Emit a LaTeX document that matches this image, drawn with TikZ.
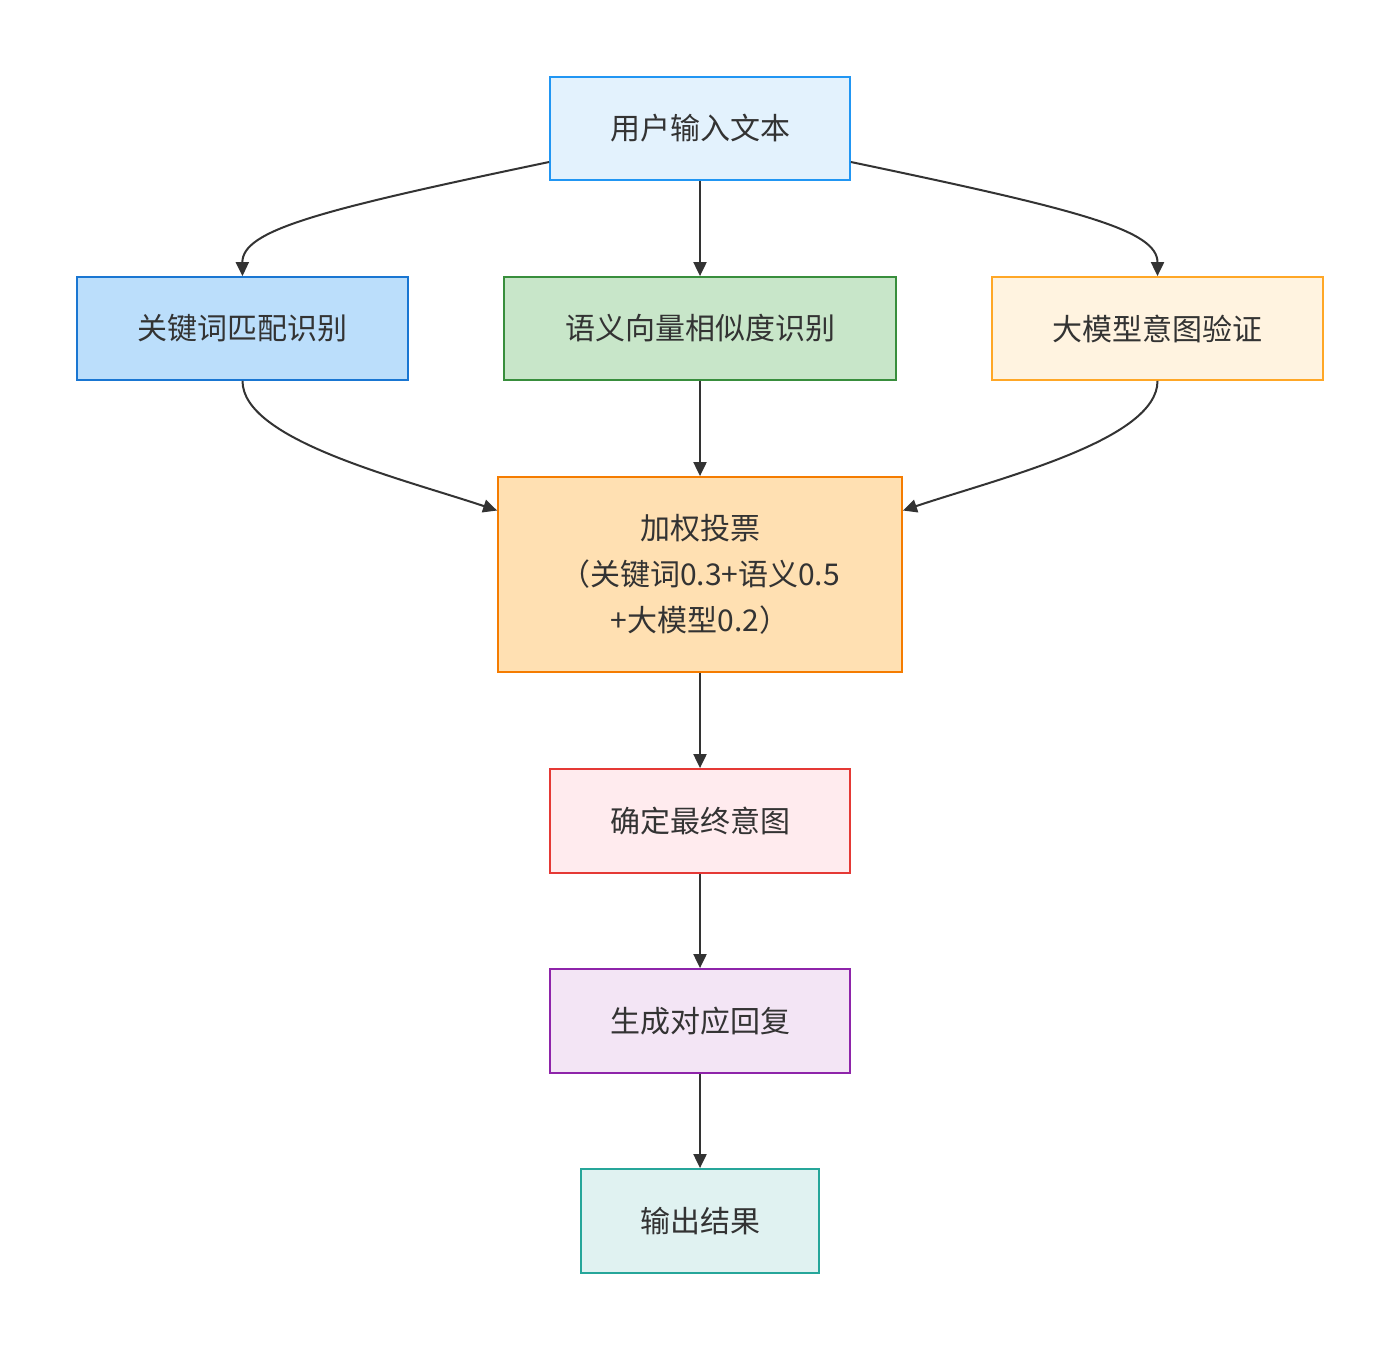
\documentclass[tikz,border=0pt]{standalone}
\usepackage{fontspec}
\setmainfont{Noto Sans CJK SC}
\usetikzlibrary{arrows.meta}
\definecolor{txt}{HTML}{333333}
\definecolor{aF}{HTML}{E3F2FD}\definecolor{aD}{HTML}{2196F3}
\definecolor{bF}{HTML}{BBDEFB}\definecolor{bD}{HTML}{1976D2}
\definecolor{cF}{HTML}{C8E6C9}\definecolor{cD}{HTML}{388E3C}
\definecolor{dF}{HTML}{FFF3E0}\definecolor{dD}{HTML}{FFA726}
\definecolor{eF}{HTML}{FFE0B2}\definecolor{eD}{HTML}{F57C00}
\definecolor{fF}{HTML}{FFEBEE}\definecolor{fD}{HTML}{E53935}
\definecolor{gF}{HTML}{F3E5F5}\definecolor{gD}{HTML}{8E24AA}
\definecolor{hF}{HTML}{E0F2F1}\definecolor{hD}{HTML}{26A69A}
\tikzset{
  box/.style={draw, line width=0.9pt, rectangle, inner sep=0pt, text=txt,
    font=\fontsize{15pt}{23pt}\selectfont, align=center},
  conn/.style={draw=txt, line width=1pt, -{Triangle[length=7pt,width=6.5pt]}},
}
\begin{document}
\begin{tikzpicture}[x=0.5pt,y=-0.5pt]
\useasboundingbox[fill=white] (0,0) rectangle (1400,1350);
\node[box, fill=aF, draw=aD, minimum width=150pt, minimum height=51.5pt] (A) at (700,128.5) {用户输入文本};
\node[box, fill=bF, draw=bD, minimum width=165.5pt, minimum height=51.5pt] (B) at (242.5,328.5) {关键词匹配识别};
\node[box, fill=cF, draw=cD, minimum width=196pt, minimum height=51.5pt] (C) at (700,328.5) {语义向量相似度识别};
\node[box, fill=dF, draw=dD, minimum width=165.5pt, minimum height=51.5pt] (D) at (1157.5,328.5) {大模型意图验证};
\node[box, fill=eF, draw=eD, minimum width=202pt, minimum height=97.5pt] (E) at (700,574.5) {加权投票\\（关键词0.3+语义0.5\\+大模型0.2）};
\node[box, fill=fF, draw=fD, minimum width=150pt, minimum height=52pt] (F) at (700,821) {确定最终意图};
\node[box, fill=gF, draw=gD, minimum width=150pt, minimum height=52pt] (G) at (700,1021) {生成对应回复};
\node[box, fill=hF, draw=hD, minimum width=119pt, minimum height=52pt] (H) at (700,1221) {输出结果};

\draw[conn] ([yshift=-16.75pt]A.west) .. controls (320,210) and (242,230) .. (B.north);
\draw[conn] ([yshift=-16.75pt]A.east) .. controls (1080,210) and (1157.5,230) .. (D.north);
\draw[conn] (A.south) -- (C.north);
\draw[conn] (B.south) .. controls (242.5,440) and (400,478) .. ([yshift=32pt]E.west);
\draw[conn] (D.south) .. controls (1157.5,440) and (1000,478) .. ([yshift=32pt]E.east);
\draw[conn] (C.south) -- (E.north);
\draw[conn] (E.south) -- (F.north);
\draw[conn] (F.south) -- (G.north);
\draw[conn] (G.south) -- (H.north);
\end{tikzpicture}
\end{document}
